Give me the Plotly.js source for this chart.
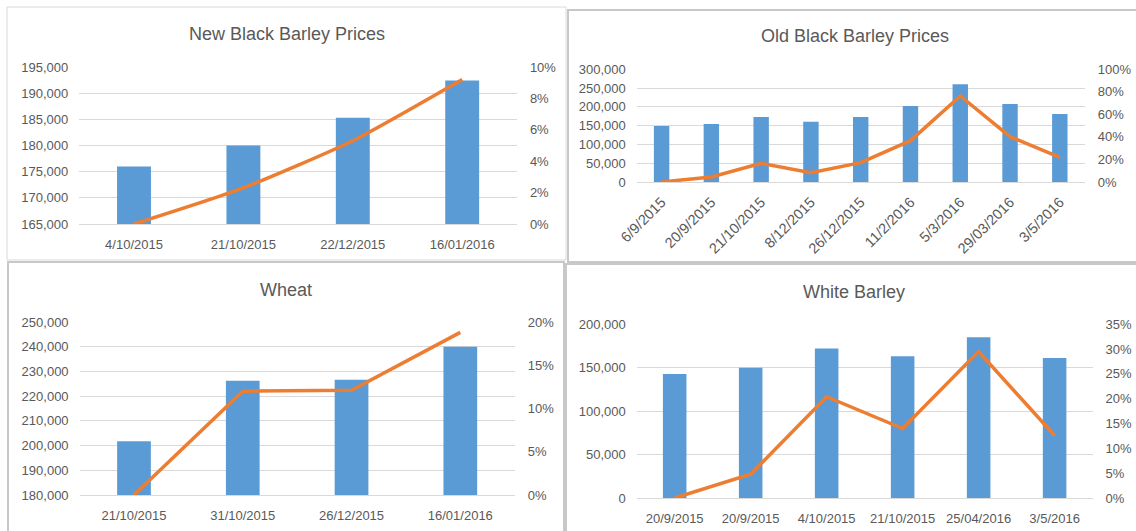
<!DOCTYPE html>
<html>
<head>
<meta charset="utf-8">
<script src="https://cdn.plot.ly/plotly-3.0.1.min.js"></script>
<style>html,body{margin:0;padding:0;background:#fff;}#chart{width:1136px;height:531px;}</style>
</head>
<body>
<div id="chart"></div>
<script>
// ---- Data ----
const nbbDates  = ['4/10/2015', '21/10/2015', '22/12/2015', '16/01/2016'];
const nbbPrices = [176000, 180000, 185300, 192400];
const nbbChange = [0, 0.023, 0.053, 0.092];

const obbDates  = ['6/9/2015', '20/9/2015', '21/10/2015', '8/12/2015', '26/12/2015', '11/2/2016', '5/3/2016', '29/03/2016', '3/5/2016'];
const obbPrices = [149000, 154500, 173000, 160500, 173000, 202000, 260000, 207500, 181000];
const obbChange = [0, 0.045, 0.166, 0.083, 0.172, 0.367, 0.763, 0.402, 0.219];

const wheatDates  = ['21/10/2015', '31/10/2015', '26/12/2015', '16/01/2016'];
const wheatPrices = [201700, 226200, 226600, 240000];
const wheatChange = [0, 0.120, 0.121, 0.188];

const wbDates  = ['20/9/2015', '20/9/2015', '4/10/2015', '21/10/2015', '25/04/2016', '3/5/2016'];
const wbPrices = [142800, 150100, 172000, 163200, 185000, 161200];
const wbChange = [0, 0.048, 0.204, 0.140, 0.295, 0.126];

const titles = ['New Black Barley Prices', 'Old Black Barley Prices', 'Wheat', 'White Barley'];

// ---- Layout helpers ----
const W = 1136, H = 531;
const px = v => v / W;
const py = v => 1 - v / H;
const FONT = 'Liberation Sans, Arial, sans-serif';
const TXT = '#595959';
const GRID = '#d9d9d9';
const BLUE = '#5B9BD5';
const ORANGE = '#ED7D31';

const panels = [
  {dates: nbbDates, prices: nbbPrices, change: nbbChange, title: titles[0],
   box: [79.3, 516.9, 67, 224], y1: [165000, 195000, 5000], y2: [0, 0.10, 0.02],
   tpos: [287, 34], angle: 0, xfs: 13, spline: true, border: [7, 7, 566, 260, '#d9d9d9', 1]},
  {dates: obbDates, prices: obbPrices, change: obbChange, title: titles[1],
   box: [636.7, 1084.7, 69.3, 182], y1: [0, 300000, 50000], y2: [0, 1, 0.2],
   tpos: [855, 36], angle: -45, xfs: 14.5, spline: false, border: [568, 10, 1140, 262, '#c8c8c8', 2]},
  {dates: wheatDates, prices: wheatPrices, change: wheatChange, title: titles[2],
   box: [79.6, 514.7, 322, 495], y1: [180000, 250000, 10000], y2: [0, 0.20, 0.05],
   tpos: [286, 290], angle: 0, xfs: 13, spline: false, border: [8, 262, 564, 540, '#c8c8c8', 2]},
  {dates: wbDates, prices: wbPrices, change: wbChange, title: titles[3],
   box: [636.7, 1092.6, 324.3, 498], y1: [0, 200000, 50000], y2: [0, 0.35, 0.05],
   tpos: [854, 292], angle: 0, xfs: 13, spline: false, border: [566, 264, 1140, 540, '#c8c8c8', 2]}
];

const data = [];
const layout = {
  width: W, height: H,
  margin: {l: 0, r: 0, t: 0, b: 0},
  paper_bgcolor: '#fff', plot_bgcolor: 'rgba(0,0,0,0)',
  showlegend: false,
  bargap: 0.69,
  font: {family: FONT, size: 13, color: TXT},
  annotations: [], shapes: []
};

panels.forEach((p, i) => {
  const xn = i + 1, y1n = 2 * i + 1, y2n = 2 * i + 2;
  const xk = 'x' + (xn === 1 ? '' : xn);
  const y1k = 'y' + (y1n === 1 ? '' : y1n);
  const y2k = 'y' + y2n;
  const idx = p.dates.map((d, k) => k);

  data.push({type: 'bar', x: idx, y: p.prices, xaxis: xk, yaxis: y1k,
             marker: {color: BLUE}, hoverinfo: 'skip'});
  data.push({type: 'scatter', mode: 'lines', x: idx, y: p.change, xaxis: xk, yaxis: y2k,
             line: {color: ORANGE, width: 3.5, shape: p.spline ? 'spline' : 'linear', smoothing: 0.6},
             hoverinfo: 'skip', cliponaxis: false});

  const [l, r, t, b] = p.box;
  layout['xaxis' + (xn === 1 ? '' : xn)] = {
    domain: [px(l), px(r)], anchor: y1k,
    range: [-0.5, p.dates.length - 0.5],
    tickmode: 'array', tickvals: idx, ticktext: p.dates,
    tickangle: p.angle, showgrid: false, zeroline: false,
    showline: true, linecolor: GRID, linewidth: 1,
    ticks: '', ticklabelstandoff: p.angle ? 5 : 8,
    tickfont: {family: FONT, size: p.xfs, color: TXT}, fixedrange: true
  };
  layout['yaxis' + (y1n === 1 ? '' : y1n)] = {
    domain: [py(b), py(t)], anchor: xk,
    range: [p.y1[0], p.y1[1]], dtick: p.y1[2], tick0: p.y1[0],
    tickformat: ',d', showgrid: true, gridcolor: GRID, gridwidth: 1,
    zeroline: false, showline: false, ticks: '', ticklabelstandoff: 10,
    tickfont: {family: FONT, size: 13, color: TXT}, fixedrange: true
  };
  layout['yaxis' + y2n] = {
    domain: [py(b), py(t)], anchor: xk, overlaying: y1k, side: 'right',
    range: [p.y2[0], p.y2[1]], dtick: p.y2[2], tick0: 0,
    tickformat: '.0%', showgrid: false, zeroline: false, showline: false,
    ticks: '', ticklabelstandoff: 12,
    tickfont: {family: FONT, size: 13, color: TXT}, fixedrange: true
  };

  layout.annotations.push({
    xref: 'paper', yref: 'paper', x: px(p.tpos[0]), y: py(p.tpos[1]),
    xanchor: 'center', yanchor: 'middle', showarrow: false,
    text: p.title, font: {family: FONT, size: 18, color: TXT}
  });
  const [bx0, by0, bx1, by1, bc, bw] = p.border;
  layout.shapes.push({
    type: 'rect', xref: 'paper', yref: 'paper',
    x0: px(bx0), x1: px(bx1), y0: py(by1), y1: py(by0),
    line: {color: bc, width: bw}, fillcolor: 'rgba(0,0,0,0)', layer: 'below'
  });
});

Plotly.newPlot('chart', data, layout, {displayModeBar: false, staticPlot: true});
</script>
</body>
</html>
